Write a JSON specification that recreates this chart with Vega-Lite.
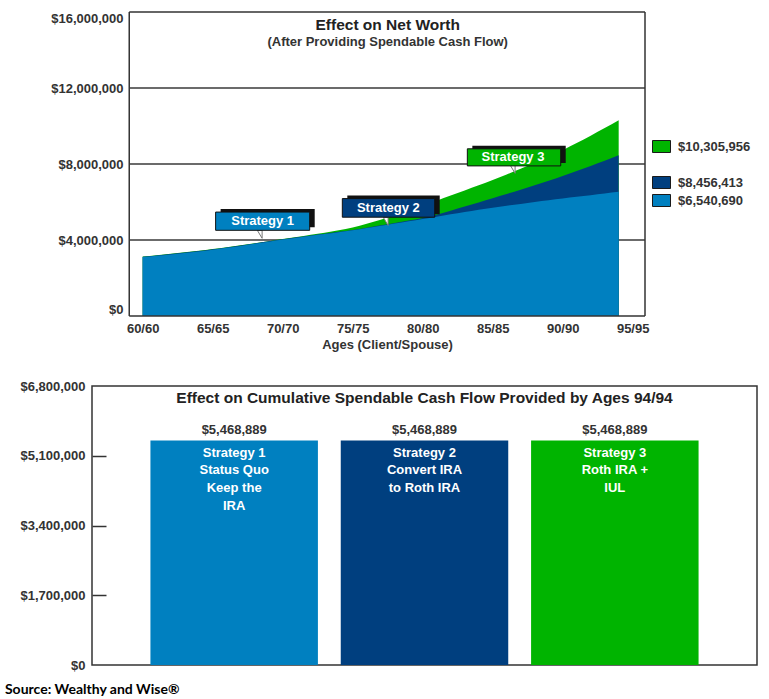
{
  "$schema": "https://vega.github.io/schema/vega-lite/v6.json",
  "autosize": {"type": "none"},
  "padding": {"left": 92, "top": 12, "right": 677, "bottom": 687},
  "background": "white",
  "spacing": 28,
  "config": {
    "font": "Liberation Sans",
    "axis": {"labelFont": "Liberation Sans", "labelFontWeight": "bold", "labelFontSize": 13, "labelColor": "#333", "titleFont": "Liberation Sans", "titleFontWeight": "bold", "titleFontSize": 13, "titleColor": "#333"}
  },
  "resolve": {"scale": {"color": "independent"}, "legend": {"color": "independent"}},
  "datasets": {
    "nw": [
      {"age": 60, "s1": 3100000, "s2": 3120000, "s3": 3130000},
      {"age": 61, "s1": 3170000, "s2": 3190000, "s3": 3200000},
      {"age": 62, "s1": 3240000, "s2": 3260000, "s3": 3270000},
      {"age": 63, "s1": 3320000, "s2": 3340000, "s3": 3350000},
      {"age": 64, "s1": 3400000, "s2": 3420000, "s3": 3430000},
      {"age": 65, "s1": 3490000, "s2": 3510000, "s3": 3520000},
      {"age": 66, "s1": 3590000, "s2": 3610000, "s3": 3620000},
      {"age": 67, "s1": 3690000, "s2": 3710000, "s3": 3720000},
      {"age": 68, "s1": 3800000, "s2": 3820000, "s3": 3830000},
      {"age": 69, "s1": 3910000, "s2": 3930000, "s3": 3940000},
      {"age": 70, "s1": 4020000, "s2": 4040000, "s3": 4050000},
      {"age": 71, "s1": 4120000, "s2": 4140000, "s3": 4160000},
      {"age": 72, "s1": 4220000, "s2": 4240000, "s3": 4280000},
      {"age": 73, "s1": 4310000, "s2": 4330000, "s3": 4380000},
      {"age": 74, "s1": 4410000, "s2": 4430000, "s3": 4510000},
      {"age": 75, "s1": 4510000, "s2": 4530000, "s3": 4660000},
      {"age": 76, "s1": 4630000, "s2": 4650000, "s3": 4850000},
      {"age": 77, "s1": 4750000, "s2": 4770000, "s3": 5060000},
      {"age": 78, "s1": 4870000, "s2": 4890000, "s3": 5300000},
      {"age": 79, "s1": 4990000, "s2": 5020000, "s3": 5550000},
      {"age": 80, "s1": 5110000, "s2": 5160000, "s3": 5810000},
      {"age": 81, "s1": 5230000, "s2": 5330000, "s3": 6070000},
      {"age": 82, "s1": 5350000, "s2": 5540000, "s3": 6340000},
      {"age": 83, "s1": 5470000, "s2": 5760000, "s3": 6610000},
      {"age": 84, "s1": 5590000, "s2": 5980000, "s3": 6880000},
      {"age": 85, "s1": 5700000, "s2": 6200000, "s3": 7160000},
      {"age": 86, "s1": 5800000, "s2": 6420000, "s3": 7450000},
      {"age": 87, "s1": 5900000, "s2": 6650000, "s3": 7750000},
      {"age": 88, "s1": 6000000, "s2": 6880000, "s3": 8070000},
      {"age": 89, "s1": 6090000, "s2": 7120000, "s3": 8400000},
      {"age": 90, "s1": 6180000, "s2": 7370000, "s3": 8730000},
      {"age": 91, "s1": 6270000, "s2": 7630000, "s3": 9100000},
      {"age": 92, "s1": 6360000, "s2": 7900000, "s3": 9490000},
      {"age": 93, "s1": 6450000, "s2": 8170000, "s3": 9890000},
      {"age": 94, "s1": 6540690, "s2": 8456413, "s3": 10305956}
    ],
    "callouts": [
      {"strategy": "Strategy 1", "x0": 65.21, "x1": 71.93, "y0": 4510000, "y1": 5470000, "tx": 68.57, "ty": 4990000, "px": 68.36, "py": 4300000},
      {"strategy": "Strategy 2", "x0": 74.26, "x1": 80.86, "y0": 5200000, "y1": 6180000, "tx": 77.55, "ty": 5690000, "px": 77.36, "py": 4980000},
      {"strategy": "Strategy 3", "x0": 83.19, "x1": 89.86, "y0": 7900000, "y1": 8800000, "tx": 86.45, "ty": 8350000, "px": 86.43, "py": 7720000}
    ],
    "bars": [
      {"strategy": "Strategy 1", "value": 5468889, "desc": "Strategy 1\nStatus Quo\nKeep the\nIRA"},
      {"strategy": "Strategy 2", "value": 5468889, "desc": "Strategy 2\nConvert IRA\nto Roth IRA"},
      {"strategy": "Strategy 3", "value": 5468889, "desc": "Strategy 3\nRoth IRA +\nIUL"}
    ]
  },
  "vconcat": [
    {
      "width": 553,
      "height": 304,
      "view": {"stroke": null},
      "layer": [
        {
          "data": {"values": [{"v": 4000000}, {"v": 8000000}, {"v": 12000000}]},
          "mark": {"type": "rule", "color": "#3a3a3a", "strokeWidth": 1.3},
          "encoding": {
            "y": {"field": "v", "type": "quantitative", "scale": {"domain": [0, 16000000], "nice": false, "zero": true},
                  "axis": {"title": null, "values": [0, 4000000, 8000000, 12000000, 16000000], "format": "$,.0f", "domain": false, "ticks": false, "grid": false, "labelPadding": 6, "labelFlush": true, "offset": -37}},
            "x": {"datum": 59.04, "type": "quantitative", "scale": {"domain": [56.38, 95.88], "nice": false, "zero": false},
                  "axis": {"title": "Ages (Client/Spouse)", "values": [60, 65, 70, 75, 80, 85, 90, 95], "labelExpr": "datum.value + '/' + datum.value", "domain": false, "ticks": false, "grid": false, "labelPadding": 6, "labelFlush": false, "titlePadding": 3, "titleX": 295}},
            "x2": {"datum": 95.88}
          }
        },
        {
          "data": {"name": "nw"},
          "mark": {"type": "area", "interpolate": "monotone"},
          "encoding": {
            "x": {"field": "age", "type": "quantitative"},
            "y": {"field": "s3", "type": "quantitative"},
            "color": {"datum": "Strategy 3", "type": "nominal", "title": null,
              "scale": {"domain": ["Strategy 3", "gap", "Strategy 2", "Strategy 1"], "range": ["#00b400", "#ffffff", "#003f7f", "#0080c0"]},
              "legend": {"orient": "none", "legendX": 563, "legendY": 128, "title": null, "direction": "vertical", "symbolType": "M-1.5,-1H1.5V1H-1.5Z", "symbolSize": 144, "symbolOpacity": 1, "labelFontSize": 13, "labelFontWeight": "bold", "labelColor": "#333", "labelFont": "Liberation Sans", "labelOffset": 10, "rowPadding": 1, "padding": 0,
                "labelExpr": "datum.label == 'Strategy 3' ? '$10,305,956' : datum.label == 'Strategy 2' ? '$8,456,413' : datum.label == 'Strategy 1' ? '$6,540,690' : ''",
                "encode": {"symbols": {"update": {"stroke": {"signal": "datum.value === 'gap' ? 'transparent' : '#1a1a1a'"}, "strokeWidth": {"value": 1}}}}}
            }
          }
        },
        {
          "data": {"name": "nw"},
          "mark": {"type": "area", "interpolate": "monotone"},
          "encoding": {
            "x": {"field": "age", "type": "quantitative"},
            "y": {"field": "s2", "type": "quantitative"},
            "color": {"datum": "Strategy 2", "type": "nominal", "title": null}
          }
        },
        {
          "data": {"name": "nw"},
          "mark": {"type": "area", "interpolate": "monotone"},
          "encoding": {
            "x": {"field": "age", "type": "quantitative"},
            "y": {"field": "s1", "type": "quantitative"},
            "color": {"datum": "Strategy 1", "type": "nominal", "title": null}
          }
        },
        {
          "data": {"name": "callouts"},
          "mark": {"type": "point", "shape": "M-0.6,-1L0.6,-1L0.6,1Z", "size": 64, "filled": true, "fill": "#ffffff", "stroke": "#777", "strokeWidth": 1, "opacity": 1},
          "encoding": {
            "x": {"field": "px", "type": "quantitative"},
            "y": {"field": "py", "type": "quantitative"}
          }
        },
        {
          "data": {"name": "callouts"},
          "mark": {"type": "rect", "color": "#111", "xOffset": 5, "x2Offset": 5, "yOffset": -3, "y2Offset": -3},
          "encoding": {
            "x": {"field": "x0", "type": "quantitative"},
            "x2": {"field": "x1"},
            "y": {"field": "y0", "type": "quantitative"},
            "y2": {"field": "y1"}
          }
        },
        {
          "data": {"name": "callouts"},
          "mark": {"type": "rect", "stroke": "#111", "strokeWidth": 1},
          "encoding": {
            "x": {"field": "x0", "type": "quantitative"},
            "x2": {"field": "x1"},
            "y": {"field": "y0", "type": "quantitative"},
            "y2": {"field": "y1"},
            "color": {"field": "strategy", "type": "nominal", "title": null}
          }
        },
        {
          "data": {"name": "callouts"},
          "mark": {"type": "text", "color": "white", "fontWeight": "bold", "fontSize": 13, "baseline": "middle"},
          "encoding": {
            "x": {"field": "tx", "type": "quantitative"},
            "y": {"field": "ty", "type": "quantitative"},
            "text": {"field": "strategy"}
          }
        },
        {
          "data": {"values": [{}]},
          "mark": {"type": "rule", "color": "#333", "strokeWidth": 1.5},
          "encoding": {"x": {"datum": 59.04}, "y": {"datum": 0}, "y2": {"datum": 16000000}}
        },
        {
          "data": {"values": [{}]},
          "mark": {"type": "rule", "color": "#333", "strokeWidth": 1.5},
          "encoding": {"x": {"datum": 95.88}, "y": {"datum": 0}, "y2": {"datum": 16000000}}
        },
        {
          "data": {"values": [{}]},
          "mark": {"type": "rule", "color": "#333", "strokeWidth": 1.5},
          "encoding": {"y": {"datum": 0}, "x": {"datum": 59.04}, "x2": {"datum": 95.88}}
        },
        {
          "data": {"values": [{}]},
          "mark": {"type": "rule", "color": "#333", "strokeWidth": 1.5},
          "encoding": {"y": {"datum": 16000000}, "x": {"datum": 59.04}, "x2": {"datum": 95.88}}
        },
        {
          "data": {"values": [{}]},
          "mark": {"type": "text", "fontWeight": "bold", "fontSize": 15.5, "color": "#222", "baseline": "middle"},
          "encoding": {"x": {"datum": 77.5}, "y": {"datum": 15300000}, "text": {"value": "Effect on Net Worth"}}
        },
        {
          "data": {"values": [{}]},
          "mark": {"type": "text", "fontWeight": "bold", "fontSize": 13, "color": "#333", "baseline": "middle"},
          "encoding": {"x": {"datum": 77.5}, "y": {"datum": 14420000}, "text": {"value": "(After Providing Spendable Cash Flow)"}}
        }
      ]
    },
    {
      "width": 665,
      "height": 279,
      "view": {"stroke": "#333", "strokeWidth": 1.5},
      "title": {"text": "Source: Wealthy and Wise®", "orient": "bottom", "anchor": "start", "frame": "bounds", "font": "Lato", "fontSize": 14, "fontWeight": "bold", "color": "#000", "dx": -15, "offset": 11},
      "data": {"name": "bars"},
      "resolve": {"axis": {"y": "independent"}},
      "encoding": {
        "x": {"field": "strategy", "type": "nominal", "scale": {"paddingInner": 0.12, "paddingOuter": 0.307}, "axis": null}
      },
      "layer": [
        {
          "mark": {"type": "bar"},
          "encoding": {
            "y": {"field": "value", "type": "quantitative", "scale": {"domain": [0, 6800000], "nice": false},
                  "axis": {"orient": "left", "values": [0, 1700000, 3400000, 5100000, 6800000], "format": "$,.0f", "title": null, "domain": false, "grid": false, "ticks": false, "labelPadding": 7}},
            "color": {"field": "strategy", "type": "nominal", "scale": {"range": ["#0080c0", "#003f7f", "#00b400"]}, "legend": null}
          }
        },
        {
          "mark": {"type": "text", "dy": -4, "baseline": "bottom", "fontWeight": "bold", "fontSize": 13, "color": "#333"},
          "encoding": {
            "y": {"field": "value", "type": "quantitative",
                  "axis": {"orient": "left", "offset": -14, "tickSize": 14, "labels": false, "domain": false, "grid": false, "title": null, "values": [1700000, 3400000, 5100000], "tickColor": "#333", "tickWidth": 1.5}},
            "text": {"field": "value", "type": "quantitative", "format": "$,.0f"}
          }
        },
        {
          "mark": {"type": "text", "baseline": "top", "dy": 6, "lineBreak": "\n", "lineHeight": 17.7, "fontWeight": "bold", "fontSize": 13, "color": "white"},
          "encoding": {
            "y": {"field": "value", "type": "quantitative", "axis": null},
            "text": {"field": "desc"}
          }
        },
        {
          "data": {"values": [{}]},
          "mark": {"type": "text", "fontWeight": "bold", "fontSize": 15.5, "color": "#222", "baseline": "middle"},
          "encoding": {
            "x": {"datum": "Strategy 2"},
            "y": {"datum": 6505000, "axis": null},
            "text": {"value": "Effect on Cumulative Spendable Cash Flow Provided by Ages 94/94"}
          }
        }
      ]
    }
  ]
}
